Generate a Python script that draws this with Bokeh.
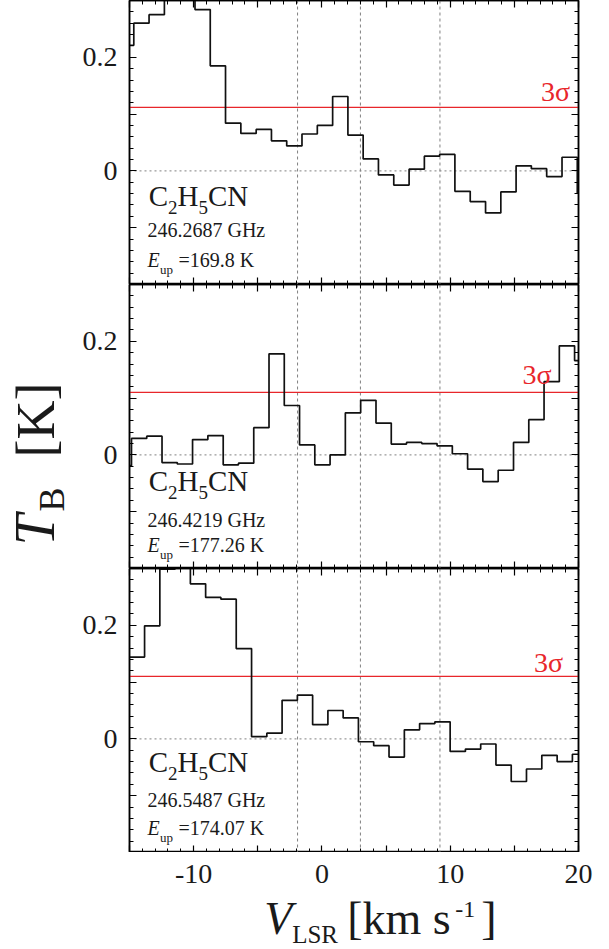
import numpy as np
from bokeh.plotting import figure
from bokeh.models import Label, Span, LinearAxis, FixedTicker, Range1d, ColumnDataSource
from bokeh.core.properties import value
from bokeh.layouts import column, row
from bokeh.embed import file_html
from bokeh.resources import INLINE

# ---------------- data ----------------
v1 = [-15.26, -14.07, -12.88, -11.68, -10.49, -9.30, -8.11, -6.92, -5.72, -4.53,
      -3.34, -2.15, -0.96, 0.24, 1.43, 2.62, 3.81, 5.00, 6.20, 7.39,
      8.58, 9.77, 10.96, 12.16, 13.35, 14.54, 15.73, 16.92, 18.12, 19.31, 20.50]
t1 = [0.221, 0.260, 0.275, 0.320, 0.310, 0.284, 0.185, 0.084, 0.066, 0.073,
      0.053, 0.044, 0.065, 0.080, 0.131, 0.063, 0.021, -0.007, -0.025, 0.003,
      0.026, 0.029, -0.036, -0.054, -0.074, -0.037, 0.009, 0.004, -0.010, 0.024, -0.039]

v2 = [-15.44, -14.25, -13.06, -11.87, -10.68, -9.49, -8.29, -7.10, -5.91, -4.72,
      -3.53, -2.34, -1.15, 0.04, 1.23, 2.42, 3.62, 4.81, 6.00, 7.19,
      8.38, 9.57, 10.76, 11.95, 13.14, 14.34, 15.53, 16.72, 17.91, 19.10, 20.29]
t2 = [-0.019, 0.029, 0.033, -0.0135, -0.016, 0.027, 0.034, -0.0175, -0.0146, 0.048,
      0.178, 0.087, 0.0175, -0.0175, 0.000, 0.074, 0.096, 0.056, 0.019, 0.022,
      0.020, 0.016, 0.002, -0.025, -0.047, -0.027, 0.022, 0.062, 0.129, 0.192, 0.166]

v3 = [-14.42, -13.23, -12.04, -10.85, -9.66, -8.47, -7.28, -6.08, -4.89, -3.70,
      -2.51, -1.32, -0.13, 1.06, 2.25, 3.44, 4.63, 5.83, 7.02, 8.21,
      9.40, 10.59, 11.78, 12.97, 14.16, 15.35, 16.54, 17.74, 18.93, 20.12]
t3 = [0.144, 0.199, 0.299, 0.320, 0.273, 0.249, 0.246, 0.159, 0.004, 0.010,
      0.068, 0.077, 0.025, 0.050, 0.037, -0.005, -0.012, -0.032, 0.016, 0.027,
      0.030, -0.022, -0.018, -0.009, -0.046, -0.075, -0.053, -0.029, -0.040, -0.027]

freqs = ["246.2687 GHz", "246.4219 GHz", "246.5487 GHz"]
eups = ["=169.8 K", "=177.26 K", "=174.07 K"]
sigma3 = [0.112, 0.110, 0.110]
vlines = [-1.9, 3.0, 9.2]

x_ticks = [-15, -10, -5, 0, 5, 10, 15, 20]
x_minor = list(range(-15, 21))
x_label_pos = [-10, 0, 10, 20]
x_label_txt = ["-10", "0", "10", "20"]
y_ticks = [-0.2, -0.1, 0.0, 0.1, 0.2, 0.3]
y_minor = [round(-0.2 + 0.02 * i, 2) for i in range(26)]
y_tick_labels = {0.0: "0", 0.2: "0.2"}

XMIN, XMAX = -15, 20
FONT = "Liberation Serif"
RED = "#e8262b"
INK = "#1a1a1a"

YT_W = 78          # strip holding the y title
LEFT = 129         # frame left edge in page pixels
RIGHT_B = 16
FRAME_W, FRAME_H = 449, 284
XT_H = 97          # strip under the panels: tick labels + x title
SCALE = FRAME_W / (XMAX - XMIN)   # px per km/s
BL = 0.36          # baseline correction (fraction of font size) seen in the renderer


def step_path(v, t):
    v = np.asarray(v, dtype=float)
    t = np.asarray(t, dtype=float)
    mids = (v[:-1] + v[1:]) / 2
    edges = np.concatenate([[v[0] - (mids[0] - v[0])], mids, [v[-1] + (v[-1] - mids[-1])]])
    xs = np.repeat(edges, 2)[1:-1]
    ys = np.repeat(t, 2)
    return xs, ys


def style_axis(ax, ticks, minor, labels, show):
    ax.ticker = FixedTicker(ticks=ticks, minor_ticks=minor)
    ax.major_tick_in = 7
    ax.major_tick_out = 0
    ax.minor_tick_in = 4
    ax.minor_tick_out = 0
    ax.axis_line_width = 1.5
    ax.major_tick_line_width = 1.2
    ax.minor_tick_line_width = 1.0
    ax.axis_line_color = "black"
    if show:
        ax.major_label_overrides = {k: labels.get(k, "") for k in ticks}
        ax.major_label_text_font = FONT
        ax.major_label_text_font_size = "28px"
        ax.major_label_text_color = INK
        ax.major_label_standoff = 12
    else:
        ax.major_label_overrides = {k: "" for k in ticks}
        ax.major_label_text_font_size = "0px"
        ax.major_label_standoff = 0


def lab(p, x, y, text, size, xo=0, yo=0, italic=False, color=INK, angle=0.0, align="left"):
    fs = float(size.replace("px", ""))
    if angle:
        xo = xo - BL * fs
    else:
        yo = yo + BL * fs
    p.add_layout(Label(x=x, y=y, x_offset=xo, y_offset=yo, text=text,
                       text_font=FONT, text_font_size=size,
                       text_font_style="italic" if italic else "normal",
                       text_color=color, angle=angle, text_align=align,
                       text_baseline="alphabetic"))


def make_panel(i, v, t):
    p = figure(title=None, frame_width=FRAME_W, frame_height=FRAME_H,
               x_range=Range1d(XMIN, XMAX), y_range=Range1d(-0.2, 0.3),
               output_backend="svg", toolbar_location=None,
               min_border_left=LEFT - YT_W, min_border_right=RIGHT_B,
               min_border_top=0, min_border_bottom=0)
    p.xgrid.visible = False
    p.ygrid.visible = False
    p.outline_line_color = "black"
    p.outline_line_width = 1.5

    style_axis(p.xaxis[0], x_ticks, x_minor, {}, False)
    style_axis(p.yaxis[0], y_ticks, y_minor, y_tick_labels, True)
    top = LinearAxis()
    style_axis(top, x_ticks, x_minor, {}, False)
    p.add_layout(top, "above")
    right = LinearAxis()
    style_axis(right, y_ticks, y_minor, {}, False)
    p.add_layout(right, "right")

    for vl in vlines:
        p.add_layout(Span(location=vl, dimension="height", line_color="#808080",
                          line_dash="3 3", line_width=1, level="underlay"))
    p.add_layout(Span(location=0, dimension="width", line_color="#808080",
                      line_dash="2 3", line_width=1, level="underlay"))
    p.add_layout(Span(location=sigma3[i], dimension="width", line_color=RED,
                      line_width=1.3, level="underlay"))

    xs, ys = step_path(v, t)
    p.line(xs, ys, line_color="#111111", line_width=1.7)

    sig_pos = [(19.35, 0.1216), (17.9, 0.124), (18.8, 0.1175)]
    sx, sy = sig_pos[i]
    lab(p, sx, sy, "3σ", "28px", color=RED, align="right")

    yb = [-0.062, -0.064, -0.059][i]
    lab(p, -13.5, yb, "C", "29px")
    lab(p, -13.5, yb, "2", "19px", xo=19.3, yo=-8)
    lab(p, -13.5, yb, "H", "29px", xo=28.8)
    lab(p, -13.5, yb, "5", "19px", xo=49.7, yo=-8)
    lab(p, -13.5, yb, "CN", "29px", xo=59.2)

    yf = [-0.1175, -0.1275, -0.12][i]
    lab(p, -13.6, yf, freqs[i], "20px")

    ye = [-0.170, -0.171, -0.170][i]
    lab(p, -13.6, ye, "E", "20px", italic=True)
    lab(p, -13.6, ye, "up", "13px", xo=12.5, yo=-7)
    lab(p, -13.6, ye, eups[i], "20px", xo=31)
    return p


def blank(w, h, xr, yr):
    f = figure(title=None, frame_width=w, frame_height=h, x_range=xr, y_range=yr,
               x_axis_type=None, y_axis_type=None, output_backend="svg",
               toolbar_location=None, min_border_left=0, min_border_right=0,
               min_border_top=0, min_border_bottom=0)
    f.xgrid.visible = False
    f.ygrid.visible = False
    f.outline_line_color = None
    return f


p1 = make_panel(0, v1, t1)
p2 = make_panel(1, v2, t2)
p3 = make_panel(2, v3, t3)

col_h = 3 * FRAME_H
total_w = LEFT + FRAME_W + RIGHT_B

# y title strip (rotated text, bottom-to-top); coordinates are pixels from bottom-left
ytf = blank(YT_W, col_h, Range1d(0, YT_W), Range1d(0, col_h))
ang = np.pi / 2
ax0, ay0 = 55, col_h - 545
lab(ytf, ax0, ay0, "T", "56px", italic=True, angle=ang)
lab(ytf, ax0, ay0, "B", "36px", xo=9, yo=34, angle=ang)
lab(ytf, ax0, ay0, "[K]", "54px", yo=88, angle=ang)

# bottom strip: x tick labels + x title (x in km/s on the panels' scale, y in px from top)
xtf = blank(total_w, XT_H,
            Range1d(XMIN - LEFT / SCALE, XMAX + RIGHT_B / SCALE), Range1d(XT_H, 0))
src = ColumnDataSource(dict(x=x_label_pos, y=[32] * len(x_label_pos), t=x_label_txt))
xtf.text(x="x", y="y", y_offset=-BL * 28, text="t", source=src, text_align="center",
         text_baseline="alphabetic", text_font=value(FONT), text_font_size="28px",
         text_color=INK)

bx, by = -4.5, 83
lab(xtf, bx, by, "V", "46px", italic=True)
lab(xtf, bx, by, "LSR", "25px", xo=28, yo=-8)
lab(xtf, bx, by, "[km s", "46px", xo=83)
lab(xtf, bx, by, "-1", "24px", xo=191, yo=17)
lab(xtf, bx, by, "]", "46px", xo=217)

layout = column(row(ytf, column(p1, p2, p3, spacing=0), spacing=0), xtf, spacing=0)
open("out.html", "w").write(file_html(layout, INLINE))
